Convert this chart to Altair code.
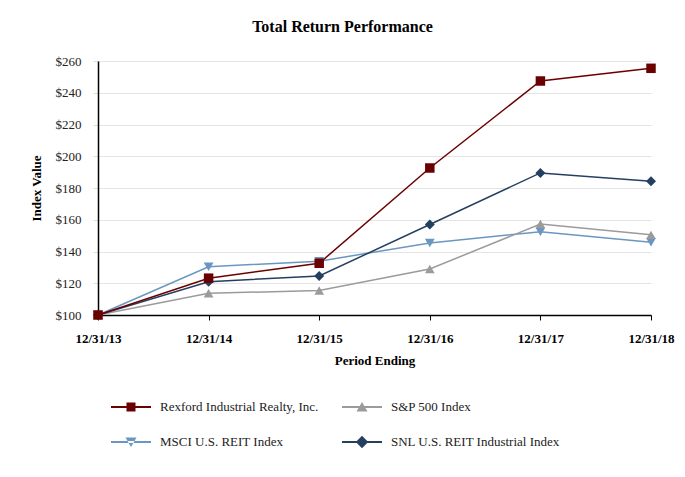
import altair as alt
import pandas as pd

# ---- data ----
dates = ["12/31/13", "12/31/14", "12/31/15", "12/31/16", "12/31/17", "12/31/18"]
series_names = [
    "Rexford Industrial Realty, Inc.",
    "S&P 500 Index",
    "MSCI U.S. REIT Index",
    "SNL U.S. REIT Industrial Index",
]
rexford = [100, 123.2, 132.6, 192.6, 247.4, 255.4]
sp500 = [100, 113.7, 115.4, 129.0, 157.3, 150.5]
msci = [100, 130.4, 133.9, 145.4, 152.4, 145.8]
snl = [100, 121.0, 124.6, 157.0, 189.5, 184.2]
y_ticks = [100, 120, 140, 160, 180, 200, 220, 240, 260]

# ---- styles ----
colors = ["#6B0000", "#9B9B9B", "#6A97C1", "#243F60"]
shapes = ["square", "triangle-up", "triangle-down", "diamond"]
sizes = [90, 100, 100, 150]
LINE = "M-2,-0.09H2V0.09H-2Z "
legend_paths = [
    LINE + "M-0.45,-0.45H0.45V0.45H-0.45Z",
    LINE + "M0,-0.5L0.55,0.44L-0.55,0.44Z",
    LINE + "M0,0.5L0.55,-0.44L-0.55,-0.44Z",
    LINE + "M0,-0.62L0.62,0L0,0.62L-0.62,0Z",
]
FONT = "Liberation Serif"

# draw order: MSCI, S&P, SNL, Rexford (Rexford on top)
values_by_series = {
    series_names[0]: rexford,
    series_names[1]: sp500,
    series_names[2]: msci,
    series_names[3]: snl,
}
draw_order = [series_names[2], series_names[1], series_names[3], series_names[0]]
rows = []
for s in draw_order:
    for d, v in zip(dates, values_by_series[s]):
        rows.append({"date": d, "series": s, "value": v})
df = pd.DataFrame(rows)

x_enc = alt.X(
    "date:N",
    sort=dates,
    scale=alt.Scale(type="point", padding=0),
    axis=alt.Axis(
        title="Period Ending",
        labelAngle=0,
        grid=False,
        labelFont=FONT,
        labelFontSize=13,
        labelFontWeight="bold",
        labelColor="#000",
        labelPadding=12,
        tickSize=5,
        tickColor="#000",
        tickWidth=1,
        domainColor="#000",
        domainWidth=1.5,
        titleFont=FONT,
        titleFontSize=13,
        titleFontWeight="bold",
        titleColor="#000",
        titlePadding=9,
    ),
)
y_enc = alt.Y(
    "value:Q",
    scale=alt.Scale(domain=[100, 260], nice=False, zero=False),
    axis=alt.Axis(
        title="Index Value",
        values=y_ticks,
        labelExpr="'$' + datum.value",
        grid=True,
        gridColor="#E4E4E4",
        gridWidth=1,
        labelFont=FONT,
        labelFontSize=13,
        labelColor="#222",
        labelPadding=12,
        tickSize=5,
        tickColor="#DDDDDD",
        domainColor="#000",
        domainWidth=1.5,
        titleFont=FONT,
        titleFontSize=13,
        titleFontWeight="bold",
        titleColor="#000",
        titlePadding=12,
    ),
)

color_scale = alt.Scale(domain=series_names, range=colors)

lines = alt.Chart(df).mark_line(strokeWidth=1.5).encode(
    x=x_enc,
    y=y_enc,
    color=alt.Color("series:N", scale=color_scale, legend=None),
    detail="series:N",
)
points = alt.Chart(df).mark_point(filled=True, opacity=1).encode(
    x=x_enc,
    y=y_enc,
    color=alt.Color("series:N", scale=color_scale, legend=None),
    shape=alt.Shape("series:N", scale=alt.Scale(domain=series_names, range=shapes), legend=None),
    size=alt.Size("series:N", scale=alt.Scale(domain=series_names, range=sizes), legend=None),
)
inner = alt.layer(lines, points)

leg = alt.Legend(
    orient="none",
    legendX=23,
    legendY=336,
    direction="horizontal",
    columns=2,
    title=None,
    symbolSize=400,
    symbolOpacity=1,
    symbolStrokeWidth=0,
    labelFont=FONT,
    labelFontSize=13,
    labelColor="#222",
    labelOffset=19,
    labelLimit=400,
    rowPadding=18,
    columnPadding=13,
    padding=0,
    gridAlign="all",
)
legend_layer = alt.Chart(df).mark_point(filled=True, opacity=0).encode(
    x=x_enc,
    y=y_enc,
    color=alt.Color("series:N", scale=alt.Scale(domain=series_names, range=colors), legend=leg),
    shape=alt.Shape("series:N", scale=alt.Scale(domain=series_names, range=legend_paths), legend=leg),
)

chart = (
    alt.layer(inner, legend_layer)
    .resolve_scale(color="independent", shape="independent")
    .properties(
        width=553,
        height=254,
        title=alt.TitleParams(
            "Total Return Performance",
            font=FONT,
            fontSize=16,
            fontWeight="bold",
            color="#000",
            anchor="middle",
            frame="group",
            dx=-32,
            offset=20,
        ),
        autosize=alt.AutoSizeParams(type="none"),
        padding={"left": 90, "top": 53, "right": 25, "bottom": 150},
    )
    .configure_view(stroke=None)
)

chart.save("out.html", embed_options={"renderer": "svg", "actions": False})
